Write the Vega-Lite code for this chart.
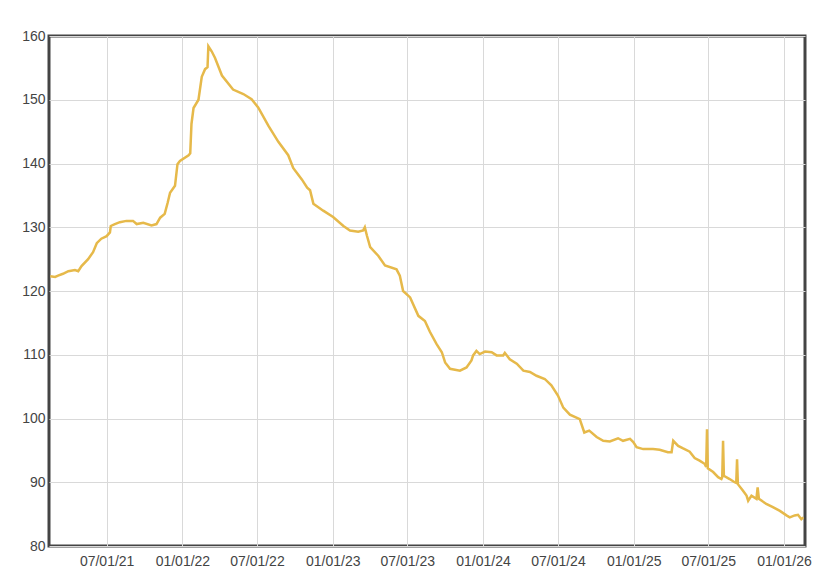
{
  "$schema": "https://vega.github.io/schema/vega-lite/v6.json",
  "width": 756,
  "height": 510,
  "autosize": {"type": "none"},
  "padding": {"left": 49, "top": 36, "right": 26, "bottom": 36},
  "background": "white",
  "config": {
    "view": {"stroke": "#444444", "strokeWidth": 3, "fill": "white"},
    "axis": {
      "labelFont": "Liberation Sans",
      "labelFontSize": 14,
      "labelColor": "#444444",
      "ticks": false,
      "domain": false,
      "grid": true,
      "gridColor": "#d9d9d9",
      "gridWidth": 1,
      "title": null
    }
  },
  "data": {
    "values": [
      {"date": "2021-02-14", "value": 122.3},
      {"date": "2021-02-26", "value": 122.2},
      {"date": "2021-03-05", "value": 122.4},
      {"date": "2021-03-17", "value": 122.7},
      {"date": "2021-03-30", "value": 123.1},
      {"date": "2021-04-15", "value": 123.3},
      {"date": "2021-04-23", "value": 123.1},
      {"date": "2021-05-01", "value": 123.9},
      {"date": "2021-05-17", "value": 125.0},
      {"date": "2021-05-29", "value": 126.1},
      {"date": "2021-06-07", "value": 127.5},
      {"date": "2021-06-18", "value": 128.2},
      {"date": "2021-07-01", "value": 128.6},
      {"date": "2021-07-09", "value": 129.2},
      {"date": "2021-07-11", "value": 130.2},
      {"date": "2021-07-21", "value": 130.5},
      {"date": "2021-08-02", "value": 130.8},
      {"date": "2021-08-18", "value": 131.0},
      {"date": "2021-09-03", "value": 131.0},
      {"date": "2021-09-12", "value": 130.5},
      {"date": "2021-09-28", "value": 130.7},
      {"date": "2021-10-18", "value": 130.3},
      {"date": "2021-10-30", "value": 130.5},
      {"date": "2021-11-08", "value": 131.5},
      {"date": "2021-11-19", "value": 132.1},
      {"date": "2021-11-26", "value": 133.8},
      {"date": "2021-12-02", "value": 135.4},
      {"date": "2021-12-14", "value": 136.5},
      {"date": "2021-12-20", "value": 139.9},
      {"date": "2021-12-26", "value": 140.4},
      {"date": "2022-01-16", "value": 141.3},
      {"date": "2022-01-20", "value": 141.6},
      {"date": "2022-01-23", "value": 146.2},
      {"date": "2022-01-28", "value": 148.7},
      {"date": "2022-02-09", "value": 150.0},
      {"date": "2022-02-17", "value": 153.6},
      {"date": "2022-02-25", "value": 154.8},
      {"date": "2022-03-03", "value": 155.1},
      {"date": "2022-03-05", "value": 158.4},
      {"date": "2022-03-13", "value": 157.6},
      {"date": "2022-03-21", "value": 156.6},
      {"date": "2022-04-07", "value": 153.8},
      {"date": "2022-05-04", "value": 151.6},
      {"date": "2022-05-29", "value": 150.9},
      {"date": "2022-06-18", "value": 150.1},
      {"date": "2022-07-04", "value": 148.8},
      {"date": "2022-07-29", "value": 145.9},
      {"date": "2022-08-22", "value": 143.4},
      {"date": "2022-09-15", "value": 141.3},
      {"date": "2022-09-27", "value": 139.3},
      {"date": "2022-10-18", "value": 137.5},
      {"date": "2022-10-31", "value": 136.2},
      {"date": "2022-11-07", "value": 135.8},
      {"date": "2022-11-15", "value": 133.7},
      {"date": "2022-12-09", "value": 132.6},
      {"date": "2023-01-02", "value": 131.6},
      {"date": "2023-01-27", "value": 130.2},
      {"date": "2023-02-12", "value": 129.5},
      {"date": "2023-03-04", "value": 129.3},
      {"date": "2023-03-16", "value": 129.5},
      {"date": "2023-03-20", "value": 130.0},
      {"date": "2023-03-25", "value": 128.7},
      {"date": "2023-04-02", "value": 126.9},
      {"date": "2023-04-22", "value": 125.5},
      {"date": "2023-05-08", "value": 124.0},
      {"date": "2023-06-05", "value": 123.4},
      {"date": "2023-06-13", "value": 122.4},
      {"date": "2023-06-21", "value": 120.0},
      {"date": "2023-07-08", "value": 119.0},
      {"date": "2023-07-28", "value": 116.1},
      {"date": "2023-08-13", "value": 115.3},
      {"date": "2023-08-25", "value": 113.6},
      {"date": "2023-09-10", "value": 111.7},
      {"date": "2023-09-23", "value": 110.4},
      {"date": "2023-10-01", "value": 108.8},
      {"date": "2023-10-13", "value": 107.8},
      {"date": "2023-11-06", "value": 107.5},
      {"date": "2023-11-22", "value": 108.0},
      {"date": "2023-12-04", "value": 109.1},
      {"date": "2023-12-08", "value": 109.9},
      {"date": "2023-12-16", "value": 110.6},
      {"date": "2023-12-24", "value": 110.1},
      {"date": "2024-01-06", "value": 110.5},
      {"date": "2024-01-22", "value": 110.4},
      {"date": "2024-02-03", "value": 109.9},
      {"date": "2024-02-19", "value": 109.9},
      {"date": "2024-02-23", "value": 110.3},
      {"date": "2024-03-06", "value": 109.3},
      {"date": "2024-03-23", "value": 108.6},
      {"date": "2024-04-08", "value": 107.5},
      {"date": "2024-04-24", "value": 107.3},
      {"date": "2024-05-10", "value": 106.7},
      {"date": "2024-05-30", "value": 106.2},
      {"date": "2024-06-15", "value": 105.2},
      {"date": "2024-07-01", "value": 103.6},
      {"date": "2024-07-14", "value": 101.7},
      {"date": "2024-07-30", "value": 100.6},
      {"date": "2024-08-23", "value": 99.9},
      {"date": "2024-09-03", "value": 97.8},
      {"date": "2024-09-15", "value": 98.1},
      {"date": "2024-10-03", "value": 97.1},
      {"date": "2024-10-19", "value": 96.5},
      {"date": "2024-11-04", "value": 96.4},
      {"date": "2024-11-24", "value": 96.9},
      {"date": "2024-12-06", "value": 96.5},
      {"date": "2024-12-23", "value": 96.8},
      {"date": "2024-12-31", "value": 96.3},
      {"date": "2025-01-08", "value": 95.5},
      {"date": "2025-01-24", "value": 95.2},
      {"date": "2025-02-17", "value": 95.2},
      {"date": "2025-03-05", "value": 95.1},
      {"date": "2025-03-25", "value": 94.7},
      {"date": "2025-04-03", "value": 94.7},
      {"date": "2025-04-07", "value": 96.5},
      {"date": "2025-04-19", "value": 95.7},
      {"date": "2025-05-01", "value": 95.3},
      {"date": "2025-05-17", "value": 94.8},
      {"date": "2025-05-29", "value": 93.8},
      {"date": "2025-06-10", "value": 93.4},
      {"date": "2025-06-22", "value": 92.9},
      {"date": "2025-06-26", "value": 92.4},
      {"date": "2025-06-28", "value": 98.3},
      {"date": "2025-06-30", "value": 92.2},
      {"date": "2025-07-13", "value": 91.6},
      {"date": "2025-07-25", "value": 90.8},
      {"date": "2025-08-02", "value": 90.5},
      {"date": "2025-08-04", "value": 90.8},
      {"date": "2025-08-06", "value": 96.5},
      {"date": "2025-08-08", "value": 91.0},
      {"date": "2025-08-22", "value": 90.5},
      {"date": "2025-09-03", "value": 90.0},
      {"date": "2025-09-07", "value": 89.9},
      {"date": "2025-09-09", "value": 93.6},
      {"date": "2025-09-11", "value": 89.7},
      {"date": "2025-09-23", "value": 88.7},
      {"date": "2025-10-02", "value": 87.9},
      {"date": "2025-10-06", "value": 87.1},
      {"date": "2025-10-14", "value": 87.9},
      {"date": "2025-10-26", "value": 87.4},
      {"date": "2025-10-29", "value": 89.2},
      {"date": "2025-11-01", "value": 87.4},
      {"date": "2025-11-19", "value": 86.6},
      {"date": "2025-12-05", "value": 86.1},
      {"date": "2025-12-22", "value": 85.5},
      {"date": "2026-01-07", "value": 84.8},
      {"date": "2026-01-15", "value": 84.5},
      {"date": "2026-01-27", "value": 84.8},
      {"date": "2026-02-04", "value": 84.9},
      {"date": "2026-02-12", "value": 84.2},
      {"date": "2026-02-17", "value": 84.5}
    ]
  },
  "mark": {"type": "line", "color": "#e6b94a", "strokeWidth": 2.5, "clip": true},
  "encoding": {
    "x": {
      "field": "date",
      "type": "temporal",
      "scale": {"type": "utc", "domain": ["2021-02-11", "2026-02-21"]},
      "axis": {
        "format": "%m/%d/%y",
        "labelPadding": 8,
        "values": [
          {"year": 2021, "month": 7, "date": 1, "utc": true},
          {"year": 2022, "month": 1, "date": 1, "utc": true},
          {"year": 2022, "month": 7, "date": 1, "utc": true},
          {"year": 2023, "month": 1, "date": 1, "utc": true},
          {"year": 2023, "month": 7, "date": 1, "utc": true},
          {"year": 2024, "month": 1, "date": 1, "utc": true},
          {"year": 2024, "month": 7, "date": 1, "utc": true},
          {"year": 2025, "month": 1, "date": 1, "utc": true},
          {"year": 2025, "month": 7, "date": 1, "utc": true},
          {"year": 2026, "month": 1, "date": 1, "utc": true}
        ]
      }
    },
    "y": {
      "field": "value",
      "type": "quantitative",
      "scale": {"domain": [80, 160], "nice": false, "zero": false},
      "axis": {"values": [80, 90, 100, 110, 120, 130, 140, 150, 160], "labelPadding": 4}
    }
  }
}
